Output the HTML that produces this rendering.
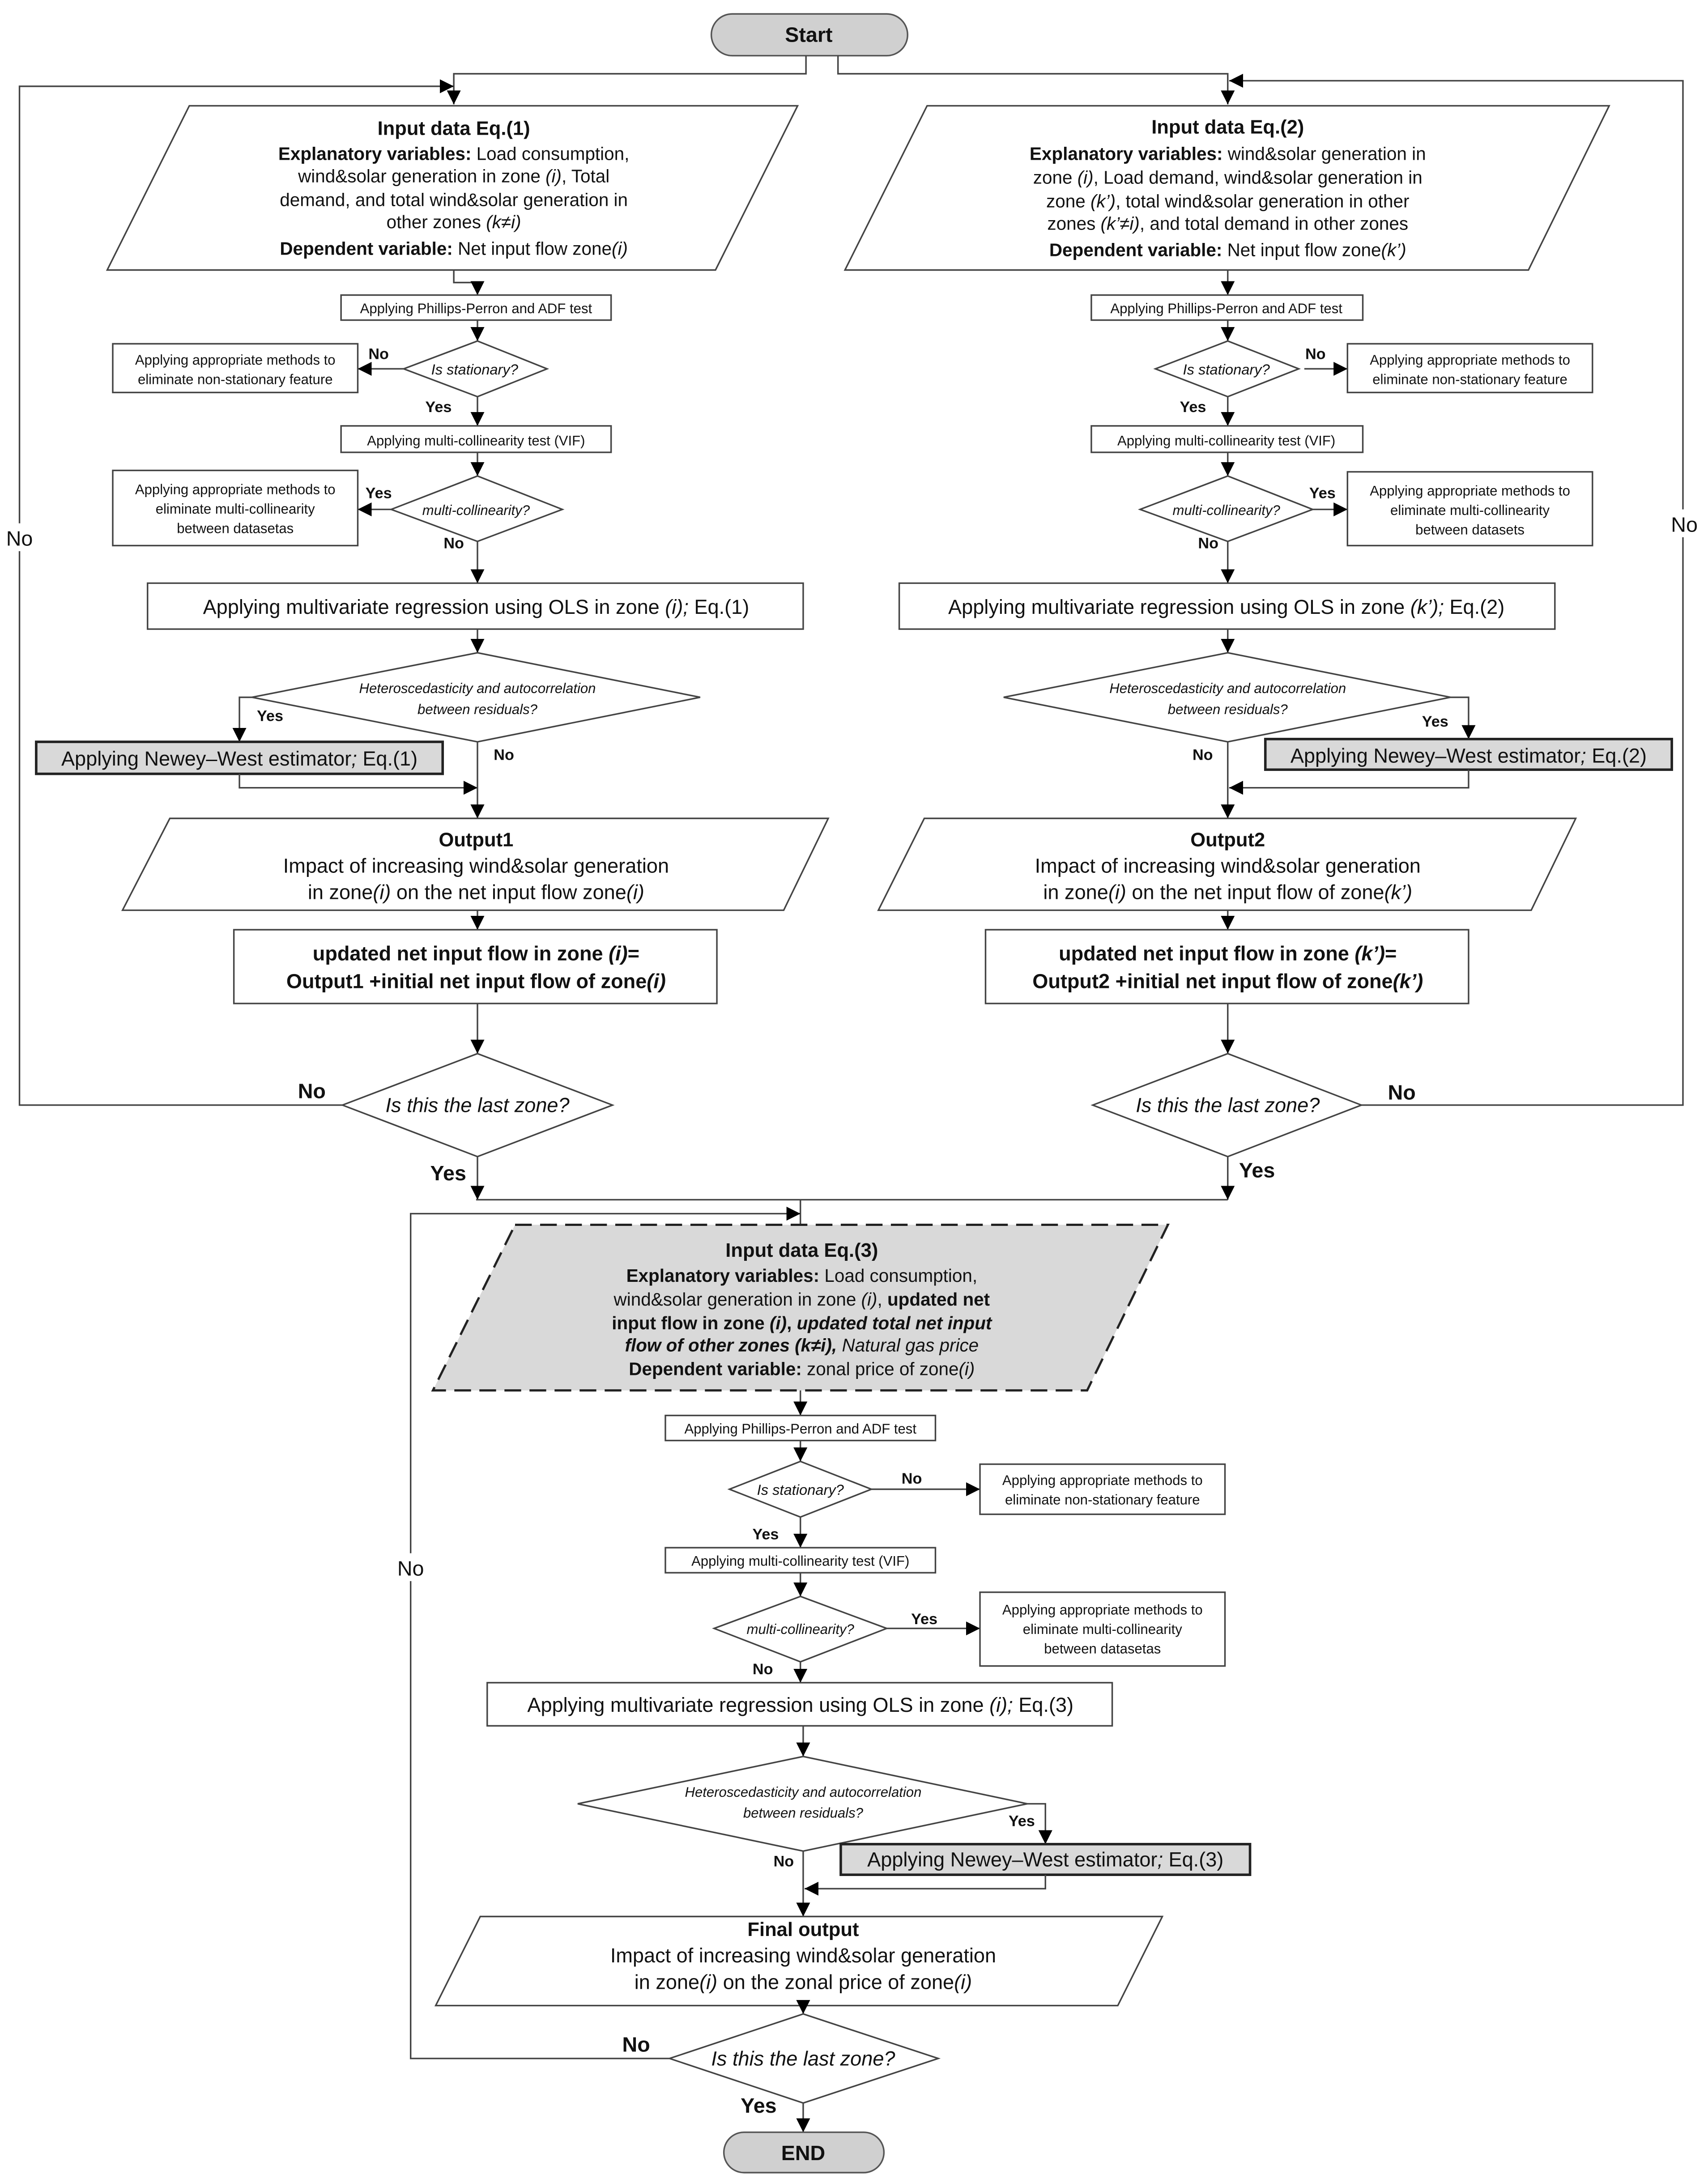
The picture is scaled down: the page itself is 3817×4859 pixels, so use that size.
<!DOCTYPE html>
<html><head><meta charset="utf-8"><style>
html,body{margin:0;padding:0;background:#fff}
svg{display:block}
text{font-family:"Liberation Sans",Arial,sans-serif;fill:#111}
.b{font-weight:bold}.i{font-style:italic}
</style></head><body>
<svg xmlns="http://www.w3.org/2000/svg" width="3817" height="4859" viewBox="0 0 1227 1562" preserveAspectRatio="none">
<defs>
<marker id="a" markerUnits="userSpaceOnUse" markerWidth="10" markerHeight="10" viewBox="0 0 10 10" refX="10" refY="5" orient="auto"><path d="M0,0L10,5L0,10z" fill="#000"/></marker>
</defs>
<g fill="none" stroke="#444" stroke-width="1.1">
<rect x="511" y="10" width="141" height="30" rx="15" fill="#d0d0d0" stroke="#555"/>
<polyline points="579,40 579,53 326,53 326,75" marker-end="url(#a)"/>
<polyline points="602,40 602,53 882,53 882,75" marker-end="url(#a)"/>
<polyline points="246,794 14,794 14,62 326,62" marker-end="url(#a)"/>
<polyline points="978,794 1209,794 1209,58 883,58" marker-end="url(#a)"/>

<polygon points="136,76 573,76 514,194 77,194"/>
<polyline points="326,194 326,203 343,203 343,212" marker-end="url(#a)"/>
<rect x="245" y="212" width="194" height="18"/>
<line x1="343" y1="230" x2="343" y2="245" marker-end="url(#a)"/>
<polygon points="343,245 393,265 343,285 290,265"/>
<line x1="290" y1="265" x2="257" y2="265" marker-end="url(#a)"/>
<rect x="81" y="247" width="176" height="35"/>
<line x1="343" y1="285" x2="343" y2="306" marker-end="url(#a)"/>
<rect x="245" y="306" width="194" height="19"/>
<line x1="343" y1="325" x2="343" y2="342" marker-end="url(#a)"/>
<polygon points="343,342 404,366 343,389 281,366"/>
<line x1="281" y1="366" x2="257" y2="366" marker-end="url(#a)"/>
<rect x="81" y="338" width="176" height="54"/>
<line x1="343" y1="389" x2="343" y2="419" marker-end="url(#a)"/>
<rect x="106" y="419" width="471" height="33"/>
<line x1="343" y1="452" x2="343" y2="469" marker-end="url(#a)"/>
<polygon points="343,469 503,501 343,533 181,501"/>
<polyline points="181,501 172,501 172,533" marker-end="url(#a)"/>
<rect x="26" y="533" width="292" height="23" fill="#d9d9d9" stroke="#222" stroke-width="1.8"/>
<polyline points="172,556 172,566 343,566" marker-end="url(#a)"/>
<line x1="343" y1="533" x2="343" y2="588" marker-end="url(#a)"/>
<polygon points="122,588 595,588 563,654 88,654"/>
<line x1="343" y1="654" x2="343" y2="668" marker-end="url(#a)"/>
<rect x="168" y="668" width="347" height="53"/>
<line x1="343" y1="721" x2="343" y2="757" marker-end="url(#a)"/>
<polygon points="343,757 440,794 343,831 246,794"/>
<line x1="343" y1="831" x2="343" y2="862" marker-end="url(#a)"/>
<line x1="342" y1="862" x2="882" y2="862"/>

<polygon points="666,76 1156,76 1098,194 607,194"/>
<line x1="882" y1="194" x2="882" y2="212" marker-end="url(#a)"/>
<rect x="784" y="212" width="195" height="18"/>
<line x1="882" y1="230" x2="882" y2="245" marker-end="url(#a)"/>
<polygon points="882,245 933,265 882,285 830,265"/>
<line x1="937" y1="265" x2="968" y2="265" marker-end="url(#a)"/>
<rect x="968" y="247" width="176" height="35"/>
<line x1="882" y1="285" x2="882" y2="306" marker-end="url(#a)"/>
<rect x="784" y="306" width="195" height="19"/>
<line x1="882" y1="325" x2="882" y2="342" marker-end="url(#a)"/>
<polygon points="882,342 943,366 882,389 819,366"/>
<line x1="943" y1="366" x2="968" y2="366" marker-end="url(#a)"/>
<rect x="968" y="339" width="176" height="53"/>
<line x1="882" y1="389" x2="882" y2="419" marker-end="url(#a)"/>
<rect x="646" y="419" width="471" height="33"/>
<line x1="882" y1="452" x2="882" y2="469" marker-end="url(#a)"/>
<polygon points="882,469 1042,501 882,533 721,501"/>
<polyline points="1042,501 1055,501 1055,531" marker-end="url(#a)"/>
<rect x="909" y="531" width="292" height="22" fill="#d9d9d9" stroke="#222" stroke-width="1.8"/>
<polyline points="1055,553 1055,566 883,566" marker-end="url(#a)"/>
<line x1="882" y1="533" x2="882" y2="588" marker-end="url(#a)"/>
<polygon points="664,588 1132,588 1100,654 631,654"/>
<line x1="882" y1="654" x2="882" y2="668" marker-end="url(#a)"/>
<rect x="708" y="668" width="347" height="53"/>
<line x1="882" y1="721" x2="882" y2="757" marker-end="url(#a)"/>
<polygon points="882,757 978,794 882,831 785,794"/>
<line x1="882" y1="831" x2="882" y2="862" marker-end="url(#a)"/>

<line x1="575" y1="862" x2="575" y2="880"/>
<polyline points="481,1479 295,1479 295,872 575,872" marker-end="url(#a)"/>
<polygon points="370,880 839,880 781,999 311,999" fill="#d9d9d9" stroke="#222" stroke-width="1.6" stroke-dasharray="12,6"/>
<line x1="575" y1="999" x2="575" y2="1017" marker-end="url(#a)"/>
<rect x="478" y="1017" width="194" height="18"/>
<line x1="575" y1="1035" x2="575" y2="1050" marker-end="url(#a)"/>
<polygon points="575,1050 626,1070 575,1090 524,1070"/>
<line x1="626" y1="1070" x2="704" y2="1070" marker-end="url(#a)"/>
<rect x="704" y="1052" width="176" height="36"/>
<line x1="575" y1="1090" x2="575" y2="1112" marker-end="url(#a)"/>
<rect x="478" y="1112" width="194" height="18"/>
<line x1="575" y1="1130" x2="575" y2="1147" marker-end="url(#a)"/>
<polygon points="575,1147 637,1170 575,1194 513,1170"/>
<line x1="637" y1="1170" x2="704" y2="1170" marker-end="url(#a)"/>
<rect x="704" y="1144" width="176" height="53"/>
<line x1="575" y1="1194" x2="575" y2="1209" marker-end="url(#a)"/>
<rect x="350" y="1209" width="449" height="31"/>
<line x1="577" y1="1240" x2="577" y2="1262" marker-end="url(#a)"/>
<polygon points="577,1262 738,1296 577,1330 415,1296"/>
<polyline points="738,1296 751,1296 751,1325" marker-end="url(#a)"/>
<rect x="604" y="1325" width="294" height="22" fill="#d9d9d9" stroke="#222" stroke-width="1.8"/>
<polyline points="751,1347 751,1357 578,1357" marker-end="url(#a)"/>
<line x1="577" y1="1330" x2="577" y2="1377" marker-end="url(#a)"/>
<polygon points="345,1377 835,1377 803,1441 313,1441"/>
<line x1="577" y1="1441" x2="577" y2="1447" marker-end="url(#a)"/>
<polygon points="577,1447 674,1479 577,1511 481,1479"/>
<line x1="577" y1="1511" x2="577" y2="1532" marker-end="url(#a)"/>
<rect x="520" y="1532" width="115" height="29" rx="14.5" fill="#d0d0d0" stroke="#555"/>
</g>

<g text-anchor="middle">
<text x="581" y="30" font-size="15" class="b">Start</text>
<text x="577" y="1552" font-size="15" class="b">END</text>

<text x="326" y="97" font-size="14" class="b">Input data Eq.(1)</text>
<text x="326" y="115" font-size="13"><tspan class="b">Explanatory variables:</tspan> Load consumption,</text>
<text x="326" y="131" font-size="13">wind&amp;solar generation in zone <tspan class="i">(i)</tspan>, Total</text>
<text x="326" y="148" font-size="13">demand, and total wind&amp;solar generation in</text>
<text x="326" y="164" font-size="13">other zones <tspan class="i">(k≠i)</tspan></text>
<text x="326" y="183" font-size="13"><tspan class="b">Dependent variable:</tspan> Net input flow zone<tspan class="i">(i)</tspan></text>
<text x="342" y="225" font-size="10">Applying Phillips-Perron and ADF test</text>
<text x="341" y="269" font-size="10.5" class="i">Is stationary?</text>
<text x="169" y="262" font-size="10">Applying appropriate methods to</text>
<text x="169" y="276" font-size="10">eliminate non-stationary feature</text>
<text x="342" y="320" font-size="10">Applying multi-collinearity test (VIF)</text>
<text x="342" y="370" font-size="10" class="i">multi-collinearity?</text>
<text x="169" y="355" font-size="10">Applying appropriate methods to</text>
<text x="169" y="369" font-size="10">eliminate multi-collinearity</text>
<text x="169" y="383" font-size="10">between datasetas</text>
<text x="342" y="441" font-size="14.5">Applying multivariate regression using OLS  in zone <tspan class="i">(i);</tspan> Eq.(1)</text>
<text x="343" y="498" font-size="10" class="i">Heteroscedasticity and autocorrelation</text>
<text x="343" y="513" font-size="10" class="i">between residuals?</text>
<text x="172" y="550" font-size="14.5">Applying Newey–West estimator<tspan class="i">;</tspan> Eq.(1)</text>
<text x="342" y="608" font-size="14" class="b">Output1</text>
<text x="342" y="627" font-size="14.5">Impact of increasing wind&amp;solar generation</text>
<text x="342" y="646" font-size="14.5">in zone<tspan class="i">(i)</tspan> on the net input flow zone<tspan class="i">(i)</tspan></text>
<text x="342" y="690" font-size="14.5" class="b">updated net input flow in zone <tspan class="i">(i)</tspan>=</text>
<text x="342" y="710" font-size="14.5" class="b">Output1 +initial net input flow of zone<tspan class="i">(i)</tspan></text>
<text x="343" y="799" font-size="14.5" class="i">Is this the last zone?</text>

<text x="882" y="96" font-size="14" class="b">Input data Eq.(2)</text>
<text x="882" y="115" font-size="13"><tspan class="b">Explanatory variables:</tspan> wind&amp;solar generation in</text>
<text x="882" y="132" font-size="13">zone <tspan class="i">(i)</tspan>, Load demand, wind&amp;solar generation in</text>
<text x="882" y="149" font-size="13">zone <tspan class="i">(k’)</tspan>,  total wind&amp;solar generation in other</text>
<text x="882" y="165" font-size="13">zones <tspan class="i">(k’≠i)</tspan>, and total demand in other zones</text>
<text x="882" y="184" font-size="13"><tspan class="b">Dependent variable:</tspan> Net input flow zone<tspan class="i">(k’)</tspan></text>
<text x="881" y="225" font-size="10">Applying Phillips-Perron and ADF test</text>
<text x="881" y="269" font-size="10.5" class="i">Is stationary?</text>
<text x="1056" y="262" font-size="10">Applying appropriate methods to</text>
<text x="1056" y="276" font-size="10">eliminate non-stationary feature</text>
<text x="881" y="320" font-size="10">Applying multi-collinearity test (VIF)</text>
<text x="881" y="370" font-size="10" class="i">multi-collinearity?</text>
<text x="1056" y="356" font-size="10">Applying appropriate methods to</text>
<text x="1056" y="370" font-size="10">eliminate multi-collinearity</text>
<text x="1056" y="384" font-size="10">between datasets</text>
<text x="881" y="441" font-size="14.5">Applying multivariate regression using OLS  in zone <tspan class="i">(k’);</tspan> Eq.(2)</text>
<text x="882" y="498" font-size="10" class="i">Heteroscedasticity and autocorrelation</text>
<text x="882" y="513" font-size="10" class="i">between residuals?</text>
<text x="1055" y="548" font-size="14.5">Applying Newey–West estimator<tspan class="i">;</tspan> Eq.(2)</text>
<text x="882" y="608" font-size="14" class="b">Output2</text>
<text x="882" y="627" font-size="14.5">Impact of increasing wind&amp;solar generation</text>
<text x="882" y="646" font-size="14.5">in zone<tspan class="i">(i)</tspan> on the net input flow of zone<tspan class="i">(k’)</tspan></text>
<text x="882" y="690" font-size="14.5" class="b">updated net input flow in zone <tspan class="i">(k’)</tspan>=</text>
<text x="882" y="710" font-size="14.5" class="b">Output2 +initial net input flow of zone<tspan class="i">(k’)</tspan></text>
<text x="882" y="799" font-size="14.5" class="i">Is this the last zone?</text>

<text x="576" y="903" font-size="14" class="b">Input data Eq.(3)</text>
<text x="576" y="921" font-size="13"><tspan class="b">Explanatory variables:</tspan> Load consumption,</text>
<text x="576" y="938" font-size="13">wind&amp;solar generation in zone <tspan class="i">(i)</tspan>, <tspan class="b">updated net</tspan></text>
<text x="576" y="955" font-size="13" class="b">input flow in zone <tspan class="i">(i)</tspan>, <tspan class="i">updated total net input</tspan></text>
<text x="576" y="971" font-size="13" class="b i">flow of other zones (k≠i), <tspan font-weight="normal">Natural gas price</tspan></text>
<text x="576" y="988" font-size="13"><tspan class="b">Dependent variable:</tspan> zonal price of zone<tspan class="i">(i)</tspan></text>
<text x="575" y="1030" font-size="10">Applying Phillips-Perron and ADF test</text>
<text x="575" y="1074" font-size="10.5" class="i">Is stationary?</text>
<text x="792" y="1067" font-size="10">Applying appropriate methods to</text>
<text x="792" y="1081" font-size="10">eliminate non-stationary feature</text>
<text x="575" y="1125" font-size="10">Applying multi-collinearity test (VIF)</text>
<text x="575" y="1174" font-size="10" class="i">multi-collinearity?</text>
<text x="792" y="1160" font-size="10">Applying appropriate methods to</text>
<text x="792" y="1174" font-size="10">eliminate multi-collinearity</text>
<text x="792" y="1188" font-size="10">between datasetas</text>
<text x="575" y="1230" font-size="14.5">Applying multivariate regression using OLS in zone <tspan class="i">(i);</tspan> Eq.(3)</text>
<text x="577" y="1291" font-size="10" class="i">Heteroscedasticity and autocorrelation</text>
<text x="577" y="1306" font-size="10" class="i">between residuals?</text>
<text x="751" y="1341" font-size="14.5">Applying Newey–West estimator<tspan class="i">;</tspan> Eq.(3)</text>
<text x="577" y="1391" font-size="14" class="b">Final output</text>
<text x="577" y="1410" font-size="14.5">Impact of increasing wind&amp;solar generation</text>
<text x="577" y="1429" font-size="14.5">in zone<tspan class="i">(i)</tspan> on the zonal price of zone<tspan class="i">(i)</tspan></text>
<text x="577" y="1484" font-size="14.5" class="i">Is this the last zone?</text>
</g>

<g font-size="11" class="b" text-anchor="middle">
<text x="272" y="258" class="b">No</text>
<text x="315" y="296" class="b">Yes</text>
<text x="272" y="358" class="b">Yes</text>
<text x="326" y="394" class="b">No</text>
<text x="194" y="518" class="b">Yes</text>
<text x="362" y="546" class="b">No</text>
<text x="945" y="258" class="b">No</text>
<text x="857" y="296" class="b">Yes</text>
<text x="950" y="358" class="b">Yes</text>
<text x="868" y="394" class="b">No</text>
<text x="1031" y="522" class="b">Yes</text>
<text x="864" y="546" class="b">No</text>
<text x="655" y="1066" class="b">No</text>
<text x="550" y="1106" class="b">Yes</text>
<text x="664" y="1167" class="b">Yes</text>
<text x="548" y="1203" class="b">No</text>
<text x="734" y="1312" class="b">Yes</text>
<text x="563" y="1341" class="b">No</text>
</g>
<g font-size="15" text-anchor="middle">
<text x="224" y="789" class="b">No</text>
<text x="1007" y="790" class="b">No</text>
<text x="322" y="848" class="b">Yes</text>
<text x="903" y="846" class="b">Yes</text>
<text x="457" y="1474" class="b">No</text>
<text x="545" y="1518" class="b">Yes</text>
</g>
<g font-size="15" text-anchor="middle">
<rect x="2" y="376" width="24" height="20" fill="#fff"/>
<text x="14" y="392">No</text>
<rect x="1197" y="366" width="24" height="20" fill="#fff"/>
<text x="1210" y="382">No</text>
<rect x="283" y="1116" width="24" height="20" fill="#fff"/>
<text x="295" y="1132">No</text>
</g>
</svg>
</body></html>
